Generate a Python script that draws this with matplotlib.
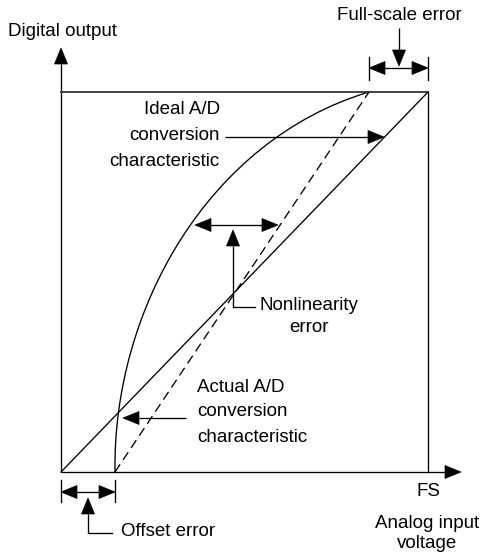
import numpy as np
import matplotlib
matplotlib.use("Agg")
import matplotlib.pyplot as plt
from matplotlib.patches import Polygon
from matplotlib.path import Path
from matplotlib.patches import PathPatch

plt.rcParams['font.family'] = ['Liberation Sans', 'DejaVu Sans']

# ---- diagram geometry (pixel space of the 482x554 canvas) ----
origin = [61, 472]          # axis origin
fs_corner = [428, 92]       # full-scale corner
x_axis_end = [461, 472]
y_axis_end = [61, 48]
offset_x = [115]            # actual characteristic start (offset)
actual_top_x = [369]        # actual characteristic end (full-scale error)

# actual (nonlinear) characteristic
curve_x = [115, 118, 126, 135, 167, 190, 213, 247, 283, 320, 369]
curve_y = [472, 413, 375, 333, 267, 228, 190, 160, 135, 112, 92]

# annotation arrows: (x0, y0, x1, y1)
arrow_fs_down = [399, 28, 399, 66]
arrow_ideal = [225, 137, 384, 137]
arrow_nonlin_up = [233, 307, 233, 230]
arrow_actual = [186, 418, 123, 418]
arrow_offset_up = [88, 533, 88, 498]

fig = plt.figure(figsize=(4.82, 5.54), dpi=100)
ax = fig.add_axes([0, 0, 1, 1])
ax.set_xlim(0, 482)
ax.set_ylim(554, 0)
ax.axis('off')

LW = 0.95
HL, HW = 16, 6.5


def head(xt, yt, dx, dy):
    n = np.hypot(dx, dy)
    ux, uy = dx / n, dy / n
    px, py = -uy, ux
    bx, by = xt - ux * HL, yt - uy * HL
    ax.add_patch(Polygon([[xt, yt], [bx + px * HW, by + py * HW], [bx - px * HW, by - py * HW]],
                         closed=True, fc='black', ec='black', lw=0.5))
    return bx, by


def arrow(x0, y0, x1, y1):
    bx, by = head(x1, y1, x1 - x0, y1 - y0)
    ax.plot([x0, bx], [y0, by], color='black', lw=LW, solid_capstyle='butt')


def double_arrow(x0, x1, y):
    b0 = head(x0, y, x0 - x1, 0)
    b1 = head(x1, y, x1 - x0, 0)
    ax.plot([b0[0], b1[0]], [y, y], color='black', lw=LW)


# axes
arrow(origin[0], origin[1], *y_axis_end)
arrow(origin[0], origin[1], *x_axis_end)
# frame
ax.plot([origin[0], fs_corner[0]], [fs_corner[1], fs_corner[1]], color='#333333', lw=1.3)
ax.plot([fs_corner[0], fs_corner[0]], [fs_corner[1], origin[1]], color='black', lw=LW)
# ideal characteristic
ax.plot([origin[0], fs_corner[0]], [origin[1], fs_corner[1]], color='black', lw=LW)
# dashed best fit
ax.plot([offset_x[0], actual_top_x[0]], [origin[1], fs_corner[1]], color='black', lw=LW,
        dashes=(7, 4))

# actual curve: least-squares cubic Bezier through the read points
cx = np.array(curve_x, float)
cy = np.array(curve_y, float)
d = np.concatenate([[0], np.cumsum(np.hypot(np.diff(cx), np.diff(cy)))])
t = d / d[-1]
P0 = np.array([cx[0], cy[0]])
P3 = np.array([cx[-1], cy[-1]])
b0 = (1 - t) ** 3
b1 = 3 * (1 - t) ** 2 * t
b2 = 3 * (1 - t) * t ** 2
b3 = t ** 3
A = np.column_stack([b1, b2])
R = np.column_stack([cx, cy]) - np.outer(b0, P0) - np.outer(b3, P3)
sol, *_ = np.linalg.lstsq(A, R, rcond=None)
P1, P2 = sol[0], sol[1]
path = Path([P0, P1, P2, P3], [Path.MOVETO, Path.CURVE4, Path.CURVE4, Path.CURVE4])
ax.add_patch(PathPatch(path, fc='none', ec='black', lw=LW))

# full-scale error
ax.plot([actual_top_x[0]] * 2, [57, 80], color='black', lw=LW)
ax.plot([fs_corner[0]] * 2, [57, 80], color='black', lw=LW)
double_arrow(actual_top_x[0], fs_corner[0], 68)
arrow(*arrow_fs_down)

# offset error
ax.plot([origin[0]] * 2, [480, 502], color='black', lw=LW)
ax.plot([offset_x[0]] * 2, [480, 502], color='black', lw=LW)
double_arrow(origin[0], offset_x[0], 492)
arrow(*arrow_offset_up)
ax.plot([88, 112], [533, 533], color='black', lw=LW)

# nonlinearity
double_arrow(195, 278, 225)
arrow(*arrow_nonlin_up)
ax.plot([233, 255], [307, 307], color='black', lw=LW)

# leader arrows
arrow(*arrow_ideal)
arrow(*arrow_actual)

FS = 13.5
kw = dict(fontsize=FS, color='black')
ax.text(8, 32, 'Digital output', ha='left', va='center', **kw)
ax.text(462, 15, 'Full-scale error', ha='right', va='center', **kw)
ax.text(220, 110, 'Ideal A/D', ha='right', va='center', **kw)
ax.text(220, 136, 'conversion', ha='right', va='center', **kw)
ax.text(220, 162, 'characteristic', ha='right', va='center', **kw)
ax.text(309, 305, 'Nonlinearity', ha='center', va='center', **kw)
ax.text(309, 327, 'error', ha='center', va='center', **kw)
ax.text(197, 388, 'Actual A/D', ha='left', va='center', **kw)
ax.text(197, 412, 'conversion', ha='left', va='center', **kw)
ax.text(197, 437, 'characteristic', ha='left', va='center', **kw)
ax.text(428, 491, 'FS', ha='center', va='center', **kw)
ax.text(427, 524, 'Analog input', ha='center', va='center', **kw)
ax.text(427, 543, 'voltage', ha='center', va='center', **kw)
ax.text(121, 532, 'Offset error', ha='left', va='center', **kw)

fig.savefig('out.png', dpi=100)
